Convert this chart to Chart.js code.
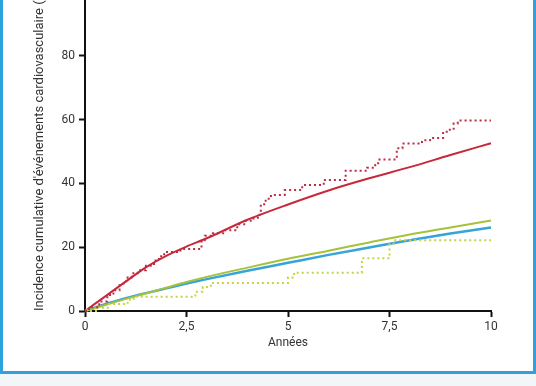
<!DOCTYPE html>
<html>
<head>
<meta charset="utf-8">
<script src="https://cdn.jsdelivr.net/npm/chart.js@4.4.1/dist/chart.umd.min.js"></script>
<style>
    body { margin: 0; background: #f3f6f8; }
    #frame {
        position: absolute; left: 0; top: 0;
        width: 536px; height: 374px; box-sizing: border-box;
        background: #fff;
        border-left: 3px solid #2ea2dc;
        border-right: 3px solid #2ea2dc;
        border-bottom: 3px solid #2ea2dc;
    }
    #wrap { position: absolute; left: 0; top: 0; width: 536px; height: 386px; }
</style>
</head>
<body>
<div id="frame"></div>
<div id="wrap"><canvas id="chartIncidence" width="536" height="386"></canvas></div>
<script>
// tick labels
const xTickLabels = ['0', '2,5', '5', '7,5', '10'];
const yTicks = [0, 20, 40, 60, 80];

// modelled curves (solid)
const modelYears = [0, 0.5, 1, 1.5, 2, 2.5, 3, 4, 5, 6, 7, 8, 9, 10];
const redModel   = [0, 4.6, 9.2, 13.7, 17.3, 20.2, 22.8, 28.6, 33.4, 37.8, 41.6, 45.1, 48.9, 52.6];
const blueModel  = [0, 2.1, 4.0, 5.6, 7.1, 8.6, 10.0, 12.6, 15.1, 17.6, 19.9, 22.2, 24.3, 26.2];
const greenModel = [0, 1.9, 3.8, 5.5, 7.3, 9.1, 10.7, 13.6, 16.4, 18.9, 21.5, 24.0, 26.2, 28.4];

// observed (Kaplan-Meier like, dotted)
const redObsYears = [0, 0.1, 0.35, 0.55, 0.7, 0.85, 0.95, 1.05, 1.15, 1.3, 1.5, 1.7, 1.82, 1.95, 2.35, 2.87, 2.95, 3.15, 3.45, 3.75, 3.95, 4.15, 4.3, 4.33, 4.45, 4.58, 4.92, 5.35, 5.88, 6.42, 6.95, 7.15, 7.22, 7.68, 7.82, 8.3, 8.5, 8.82, 8.95, 9.08, 9.18, 10];
const redObs      = [0, 1.2, 3.0, 5.0, 6.5, 8.1, 9.3, 10.5, 11.8, 12.8, 14.2, 15.8, 17.2, 18.5, 19.4, 22.2, 23.6, 24.4, 25.3, 27.2, 28.3, 29.2, 30.2, 33.5, 35.2, 36.4, 37.9, 39.5, 41.1, 44.0, 44.9, 45.8, 47.5, 51.0, 52.5, 53.5, 54.2, 56.2, 56.8, 58.8, 59.7, 59.7];
const greenObsYears = [0, 0.3, 0.6, 1.05, 1.2, 2.72, 2.9, 3.1, 5.0, 5.15, 6.82, 7.5, 7.6, 10];
const greenObs      = [0, 1.0, 2.2, 3.5, 4.5, 6.0, 7.5, 8.8, 10.5, 12.0, 16.5, 21.0, 22.2, 22.2];

function toPoints(xs, ys) {
    return xs.map((x, i) => ({ x: x, y: ys[i] }));
}

const fontTicks = { family: 'Roboto', size: 12 };

const ctx = document.getElementById('chartIncidence').getContext('2d');
const chartIncidence = new Chart(ctx, {
    type: 'line',
    data: {
        datasets: [{
            label: 'Observé (rouge)',
            data: toPoints(redObsYears, redObs),
            borderColor: '#bd2c45',
            borderWidth: 2,
            borderDash: [2, 3],
            stepped: true,
            pointRadius: 0
        },
        {
            label: 'Observé (vert)',
            data: toPoints(greenObsYears, greenObs),
            borderColor: '#c9d144',
            borderWidth: 2,
            borderDash: [2, 3],
            stepped: true,
            pointRadius: 0
        },
        {
            label: 'Prédit (vert)',
            data: toPoints(modelYears, greenModel),
            borderColor: '#a5c23a',
            borderWidth: 2,
            cubicInterpolationMode: 'monotone',
            pointRadius: 0
        },
        {
            label: 'Prédit (bleu)',
            data: toPoints(modelYears, blueModel),
            borderColor: '#36a4d8',
            borderWidth: 2.5,
            cubicInterpolationMode: 'monotone',
            pointRadius: 0
        },
        {
            label: 'Prédit (rouge)',
            data: toPoints(modelYears, redModel),
            borderColor: '#c8283a',
            borderWidth: 2,
            cubicInterpolationMode: 'monotone',
            pointRadius: 0
        }]
    },
    options: {
        responsive: false,
        animation: false,
        clip: false,
        layout: {
            padding: { left: 28, right: 45, top: 0, bottom: 32 }
        },
        plugins: {
            legend: { display: false },
            tooltip: { enabled: false }
        },
        scales: {
            x: {
                type: 'linear',
                min: 0,
                max: 10,
                afterFit: (scale) => { scale.height = 43; },
                afterBuildTicks: (scale) => {
                    scale.ticks = xTickLabels.map((t, i) => ({ value: i * 2.5 }));
                },
                ticks: {
                    color: '#333',
                    font: fontTicks,
                    padding: 3,
                    maxRotation: 0,
                    callback: (value, index) => xTickLabels[index]
                },
                border: { display: true, color: '#111', width: 2 },
                grid: {
                    drawOnChartArea: false,
                    drawTicks: true,
                    tickLength: 6,
                    tickColor: '#111',
                    tickWidth: 2
                },
                title: {
                    display: true,
                    text: 'Années',
                    color: '#333',
                    font: { family: 'Roboto', size: 12 }
                }
            },
            y: {
                min: 0,
                max: 97.5,
                afterFit: (scale) => {
                    scale.width = 57;
                    scale.paddingTop = 0;
                    scale.paddingBottom = 0;
                },
                afterBuildTicks: (scale) => {
                    scale.ticks = yTicks.map(v => ({ value: v }));
                },
                ticks: {
                    color: '#333',
                    font: fontTicks,
                    padding: 4
                },
                border: { display: true, color: '#111', width: 2 },
                grid: {
                    drawOnChartArea: false,
                    drawTicks: true,
                    tickLength: 6,
                    tickColor: '#111',
                    tickWidth: 2
                },
                title: {
                    display: true,
                    align: 'start',
                    text: "Incidence cumulative d'événements cardiovasculaire (%)",
                    color: '#333',
                    font: { family: 'Roboto', size: 13 }
                }
            }
        }
    }
});
</script>
</body>
</html>
